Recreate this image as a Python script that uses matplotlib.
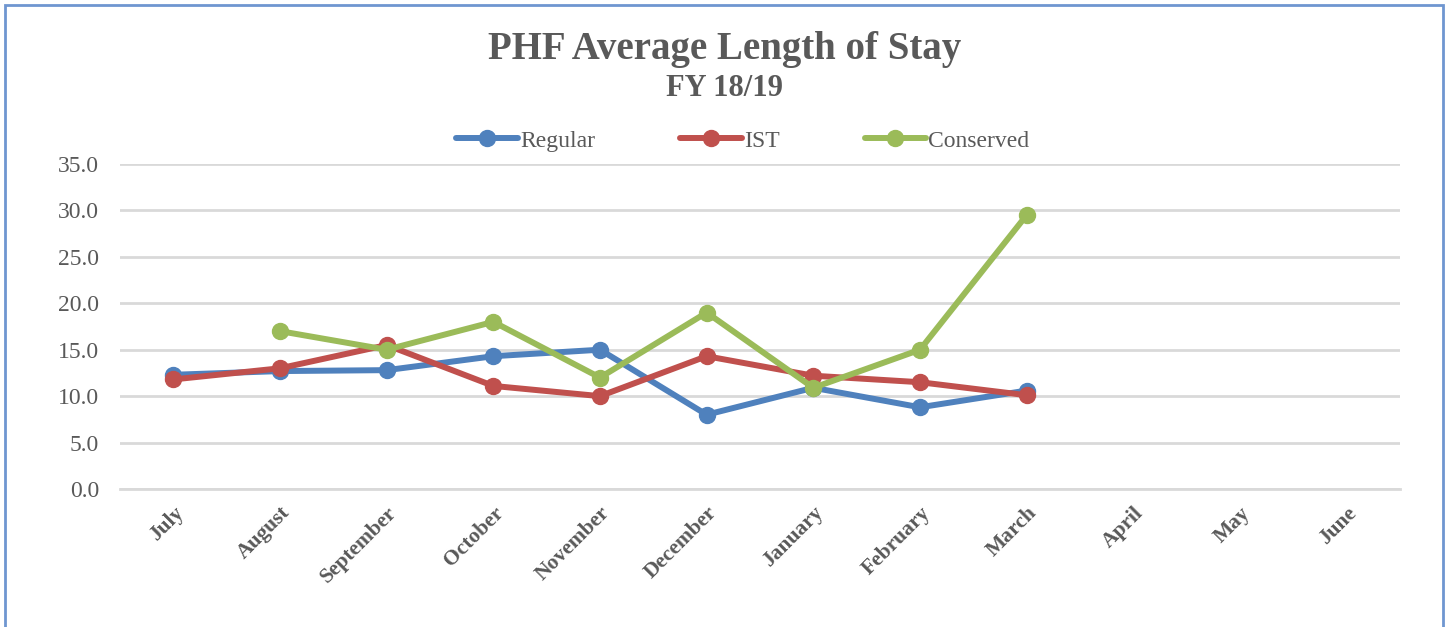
import numpy as np
import matplotlib.pyplot as plt
from matplotlib.patches import Rectangle

months = ['July', 'August', 'September', 'October', 'November', 'December',
          'January', 'February', 'March', 'April', 'May', 'June']
regular = [12.3, 12.7, 12.8, 14.3, 15.0, 8.0, 10.9, 8.8, 10.6]
ist = [11.8, 13.0, 15.5, 11.1, 10.0, 14.3, 12.2, 11.5, 10.1]
conserved = [None, 17.0, 15.0, 18.0, 12.0, 19.0, 10.9, 15.0, 29.5]
yticks = [0, 5, 10, 15, 20, 25, 30, 35]

serif = ['Liberation Serif', 'DejaVu Serif']
grey = '#595959'

fig = plt.figure(figsize=(14.49, 6.27), dpi=100)
ax = fig.add_axes([120 / 1449, 1 - 489 / 627, 1280 / 1449, 325 / 627])

x = np.arange(len(months))
series = [('Regular', regular, '#4F81BD'),
          ('IST', ist, '#C0504D'),
          ('Conserved', conserved, '#9BBB59')]
for name, vals, col in series:
    v = np.array([np.nan if a is None else a for a in vals], dtype=float)
    ax.plot(x[:len(v)], v, color=col, lw=4.3, marker='o', ms=11.5,
            solid_capstyle='round', label=name, zorder=3)

ax.set_xlim(-0.5, len(months) - 0.5)
ax.set_ylim(0, 35)
ax.set_yticks(yticks)
ax.set_yticklabels(['%.1f' % t for t in yticks], fontsize=17, color=grey,
                   family=serif)
ax.set_xticks(x)
ax.set_xticklabels(months, rotation=45, ha='right', va='top',
                   rotation_mode='anchor', fontsize=15.5, fontweight='bold',
                   color=grey, family=serif)
ax.tick_params(length=0)
ax.tick_params(axis='y', pad=15)
ax.tick_params(axis='x', pad=10)
ax.grid(axis='y', color='#D9D9D9', lw=2)
ax.set_axisbelow(True)
for s in ['top', 'right', 'left']:
    ax.spines[s].set_visible(False)
ax.spines['bottom'].set_color('#D9D9D9')
ax.spines['bottom'].set_linewidth(2)

fig.text(0.5, 1 - 49 / 627, 'PHF Average Length of Stay', ha='center',
         va='center', fontsize=28, fontweight='bold', color=grey, family=serif)
fig.text(0.5, 1 - 89 / 627, 'FY 18/19', ha='center', va='center',
         fontsize=22, fontweight='bold', color=grey, family=serif)

leg = fig.legend(loc='center', bbox_to_anchor=(743 / 1449, 1 - 141 / 627),
                 ncol=3, frameon=False, handlelength=2.6, columnspacing=3.6,
                 handletextpad=0.1, prop={'family': serif, 'size': 17})
for t in leg.get_texts():
    t.set_color(grey)

fig.patches.append(Rectangle((5 / 1449, -0.05), 1438 / 1449, 1.05 - 5 / 627,
                             transform=fig.transFigure, fill=False,
                             edgecolor='#6F96D0', lw=2))

fig.savefig('out.png', dpi=100)
